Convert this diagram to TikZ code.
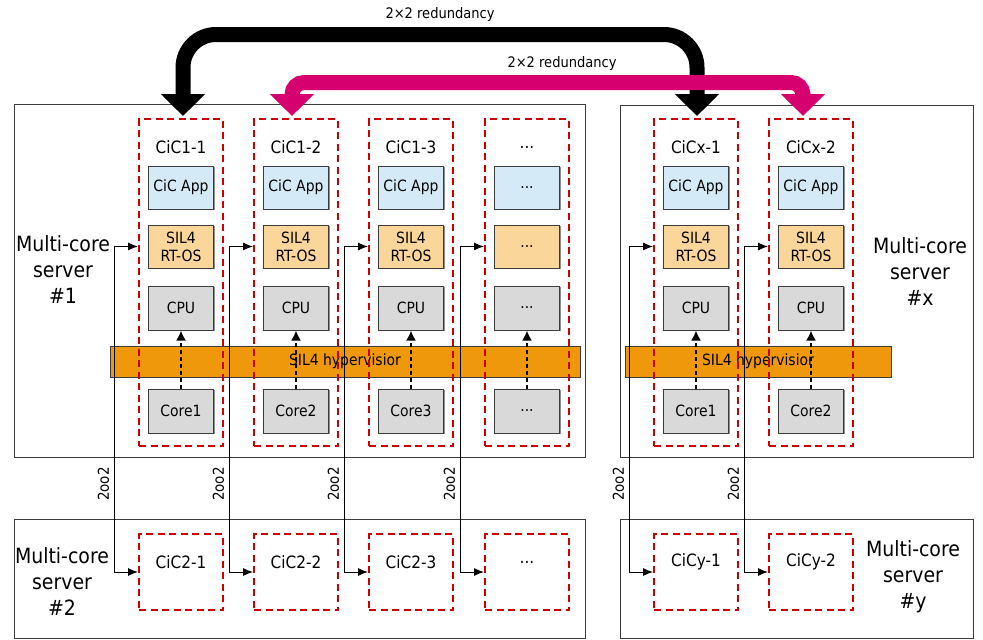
\documentclass[tikz,border=0pt]{standalone}
\usepackage{fontspec}
\setmainfont{DejaVu Sans Condensed}
\usetikzlibrary{arrows.meta,shadows}
\definecolor{appblue}{RGB}{212,235,247}
\definecolor{osorange}{RGB}{251,214,155}
\definecolor{hwgray}{RGB}{217,217,217}
\definecolor{hypor}{RGB}{240,152,12}
\definecolor{cicred}{RGB}{204,0,0}
\definecolor{redmag}{RGB}{214,0,111}
\definecolor{boxgray}{RGB}{60,60,60}
\newcommand{\tdots}{...}
\begin{document}
\begin{tikzpicture}[x=1pt,y=-1pt,
  server/.style={draw=boxgray, line width=1pt},
  srvlabel/.style={align=center, font=\fontsize{21}{26}\selectfont, inner sep=0pt},
  cicbox/.style={draw=cicred, line width=2pt, dash pattern=on 7pt off 4.5pt, minimum width=84pt, inner sep=0pt},
  head/.style={font=\fontsize{17}{20}\selectfont, inner sep=0pt},
  innerbox/.style={draw=boxgray, line width=1pt, minimum width=65pt, minimum height=43pt, inner sep=0pt, align=center, font=\fontsize{15.5}{18}\selectfont, drop shadow={shadow xshift=1pt, shadow yshift=-1pt, fill=black!45, opacity=1}},
  app/.style={innerbox, fill=appblue},
  os/.style={innerbox, fill=osorange},
  hw/.style={innerbox, fill=hwgray},
  hyp/.style={draw=boxgray, line width=1pt, fill=hypor, minimum height=31pt, inner sep=0pt, font=\fontsize{15.5}{18}\selectfont},
  hwarrow/.style={line width=2.2pt, dash pattern=on 4pt off 3pt, -{Latex[length=10pt,width=10pt]}},
  conn/.style={line width=1pt, {Latex[length=10pt,width=8pt]}-{Latex[length=10pt,width=8pt]}},
  oolabel/.style={rotate=90, font=\fontsize{15}{18}\selectfont, inner sep=0pt},
  bigarrow/.style={line width=15pt, {Triangle[width=43pt,length=22pt]}-{Triangle[width=43pt,length=22pt]}},
  redlabel/.style={font=\fontsize{14.5}{17}\selectfont, inner sep=0pt}
]
\useasboundingbox (0,0) rectangle (983,640);

% servers
\draw[server] (14,104) rectangle (585,457);
\draw[server] (620,105) rectangle (973,457);
\draw[server] (14,519) rectangle (585,638.5);
\draw[server] (620,519) rectangle (973,638.5);

\node[srvlabel] (s1) at (63,270) {Multi-core\\server\\\#1};
\node[srvlabel] (sx) at (920,272) {Multi-core\\server\\\#x};
\node[srvlabel] (s2) at (62,582) {Multi-core\\server\\\#2};
\node[srvlabel] (sy) at (913,577) {Multi-core\\server\\\#y};

% hypervisors
\node[hyp, minimum width=470pt] (hyp1) at (345,361.5) {SIL4 hypervisior};
\node[hyp, minimum width=266pt] (hyp2) at (758,361.5) {SIL4 hypervisior};

% columns
\foreach \i/\cx/\hd/\ap/\ro/\cp/\co/\bt in {
  1/181/CiC1-1/CiC App/SIL4\\RT-OS/CPU/Core1/CiC2-1,
  2/296/CiC1-2/CiC App/SIL4\\RT-OS/CPU/Core2/CiC2-2,
  3/411/CiC1-3/CiC App/SIL4\\RT-OS/CPU/Core3/CiC2-3,
  4/527/\tdots/\tdots/\tdots/\tdots/\tdots/\tdots,
  5/696/CiCx-1/CiC App/SIL4\\RT-OS/CPU/Core1/CiCy-1,
  6/811/CiCx-2/CiC App/SIL4\\RT-OS/CPU/Core2/CiCy-2}{
  \node[cicbox, minimum height=327pt] (cic\i) at (\cx,282.5) {};
  \node[head] (hd\i) at (\cx,147) {\hd};
  \node[app] (app\i) at (\cx,187.5) {\ap};
  \node[os] (os\i) at (\cx,246.5) {\ro};
  \node[hw, minimum height=44pt] (cpu\i) at (\cx,308) {\cp};
  \node[hw, minimum height=44pt] (core\i) at (\cx,411) {\co};
  \draw[hwarrow] (core\i.north) -- (cpu\i.south);
  \node[cicbox, minimum height=76pt] (bot\i) at (\cx,572) {};
  \node[head] (bl\i) at (\cx,562) {\bt};
  \draw[conn] (os\i.west -| cic\i.west) -- ++(-24,0) |- (bot\i.west);
  \node[oolabel] (oo\i) at (\cx-77.5,484) {2oo2};
}

% redundancy arrows
\node[redlabel] (lab1) at (440,14) {2×2 redundancy};
\node[redlabel] (lab2) at (562,63) {2×2 redundancy};
\draw[bigarrow, black, rounded corners=33pt] ([xshift=2pt,yshift=2pt]cic1.north) |- (440,34.5) -| ([xshift=1pt,yshift=2pt]cic5.north);
\draw[bigarrow, redmag, rounded corners=12pt] ([xshift=-4pt,yshift=2pt]cic2.north) |- (550,82.5) -| ([xshift=-8pt,yshift=2pt]cic6.north);
\end{tikzpicture}
\end{document}
